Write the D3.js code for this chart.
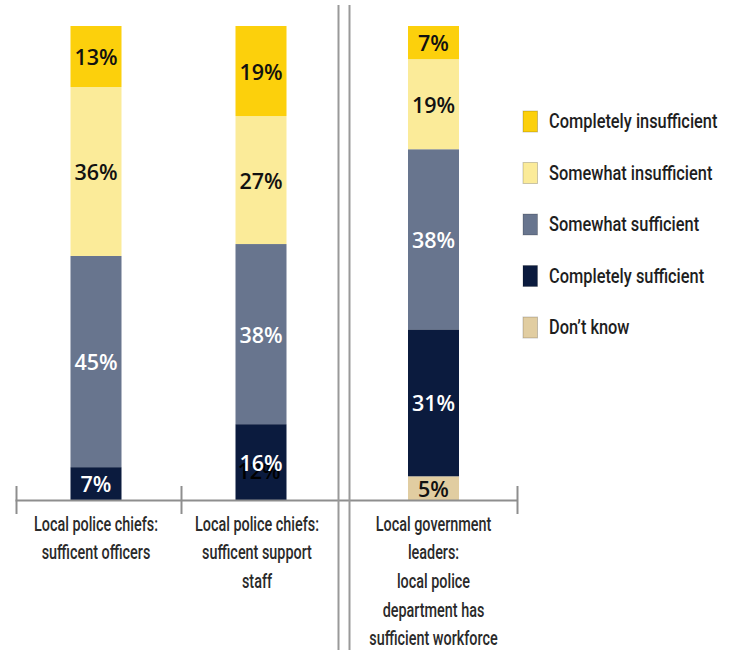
<!DOCTYPE html>
<html>
<head>
<meta charset="utf-8">
<script src="https://cdn.jsdelivr.net/npm/d3@7"></script>
<style>
  html, body { margin: 0; padding: 0; background: #fff; }
  svg { display: block; }
  .cond { font-family: "Roboto", "Liberation Sans", sans-serif; font-weight: 500; }
  .pct { font-family: "Open Sans", "Lato", sans-serif; font-size: 21.5px; font-weight: 600; }
</style>
</head>
<body>
<svg id="chart" width="740" height="650"></svg>
<script>
// Survey groups (two panels: police chiefs | local government leaders)
const categoriesLeft = ["chiefsOfficers", "chiefsStaff"];
const categoriesRight = ["govWorkforce"];
const categoryLabels = {
  chiefsOfficers: ["Local police chiefs:", "sufficent officers"],
  chiefsStaff: ["Local police chiefs:", "sufficent support", "staff"],
  govWorkforce: ["Local government", "leaders:", "local police", "department has", "sufficient workforce"]
};
const allCategories = categoriesLeft.concat(categoriesRight);

// Response shares (%) per group, in order of allCategories
const completelyInsufficient = [13, 19, 7];
const somewhatInsufficient   = [36, 27, 19];
const somewhatSufficient     = [45, 38, 38];
const completelySufficient   = [7, 16, 31];
const dontKnow               = [0, 0, 5];

// Legend order (top to bottom); stacking runs the opposite way
const seriesNames = ["Completely insufficient", "Somewhat insufficient", "Somewhat sufficient", "Completely sufficient", "Don\u2019t know"];
const seriesValues = [completelyInsufficient, somewhatInsufficient, somewhatSufficient, completelySufficient, dontKnow];
const seriesColors = ["#fcd00c", "#fbeb99", "#68758e", "#0b1b3e", "#e1cda1"];
const labelColors  = ["#111", "#111", "#fff", "#fff", "#111"];

// Extra label printed underneath the "Completely sufficient" label of the support-staff bar
const strayLabelCategory = "chiefsStaff";
const strayLabelValue = 12;

const svg = d3.select("#chart");

const rows = allCategories.map((c, i) => {
  const r = { category: c };
  seriesNames.forEach((s, k) => r[s] = seriesValues[k][i]);
  return r;
});

const stackKeys = seriesNames.slice().reverse();
const stacked = d3.stack().keys(stackKeys).offset(d3.stackOffsetExpand)(rows);

const y = d3.scaleLinear().domain([0, 1]).range([500, 26]);
const xLeft = d3.scaleBand().domain(categoriesLeft).range([13.5, 343.5]);
const xRight = d3.scaleBand().domain(categoriesRight).range([349.5, 517.5]);
const barWidth = 51;
const xCenter = c => categoriesLeft.includes(c)
  ? xLeft(c) + xLeft.bandwidth() / 2
  : xRight(c) + xRight.bandwidth() / 2;

// Bars
const layers = svg.append("g").selectAll("g")
  .data(stacked)
  .join("g")
  .attr("fill", d => seriesColors[seriesNames.indexOf(d.key)]);

layers.selectAll("rect")
  .data(d => d.filter(p => p[1] - p[0] > 0))
  .join("rect")
  .attr("x", p => xCenter(p.data.category) - barWidth / 2)
  .attr("width", barWidth)
  .attr("y", p => y(p[1]))
  .attr("height", p => y(p[0]) - y(p[1]));

// Stray label (drawn first so the regular label sits on top)
{
  const idx = allCategories.indexOf(strayLabelCategory);
  const layer = stacked[stackKeys.indexOf("Completely sufficient")][idx];
  svg.append("text")
    .attr("class", "pct")
    .attr("x", xCenter(strayLabelCategory) - 2)
    .attr("y", (y(layer[0]) + y(layer[1])) / 2 + 8)
    .attr("text-anchor", "middle")
    .attr("dominant-baseline", "central")
    .attr("fill", "#000")
    .text(strayLabelValue + "%");
}

// Value labels
stacked.forEach(layer => {
  const k = seriesNames.indexOf(layer.key);
  svg.append("g").selectAll("text")
    .data(layer.filter(p => p[1] - p[0] > 0))
    .join("text")
    .attr("class", "pct")
    .attr("x", p => xCenter(p.data.category))
    .attr("y", p => (y(p[0]) + y(p[1])) / 2)
    .attr("text-anchor", "middle")
    .attr("dominant-baseline", "central")
    .attr("fill", labelColors[k])
    .text(p => p.data[layer.key] + "%");
});

// Category axis
const axisColor = "#8e8e8e";
const axis = svg.append("g").attr("stroke", axisColor);
axis.append("line")
  .attr("x1", xLeft.range()[0] + 2).attr("x2", xRight.range()[1])
  .attr("y1", y(0) + 0.5).attr("y2", y(0) + 0.5)
  .attr("stroke-width", 2);
const tickXs = categoriesLeft.map(c => xLeft(c) + 3).concat([xRight.range()[1]]);
axis.selectAll("line.tick")
  .data(tickXs)
  .join("line")
  .attr("class", "tick")
  .attr("x1", d => d).attr("x2", d => d)
  .attr("y1", 486).attr("y2", 514)
  .attr("stroke-width", 2);

// Panel separators
svg.append("g").attr("stroke", "#999").attr("stroke-width", 2)
  .selectAll("line")
  .data([338.5, xRight.range()[0]])
  .join("line")
  .attr("x1", d => d).attr("x2", d => d)
  .attr("y1", 5).attr("y2", 650);

// Category labels (horizontally squeezed for a condensed look)
allCategories.forEach(c => {
  const cx = xCenter(c) - (c === "chiefsStaff" ? 4 : 0);
  categoryLabels[c].forEach((line, i) => {
    svg.append("text")
      .attr("class", "cond")
      .attr("transform", `translate(${cx}, ${530.5 + i * 28.7}) scale(0.72, 1)`)
      .attr("text-anchor", "middle")
      .attr("font-size", 20)
      .attr("fill", "#2a2a2a")
      .text(line);
  });
});

// Legend
const legend = svg.append("g").selectAll("g")
  .data(seriesNames)
  .join("g")
  .attr("transform", (d, i) => `translate(523, ${121.5 + i * 51.5})`);
legend.append("rect")
  .attr("x", 0).attr("y", -10.5)
  .attr("width", 14.5).attr("height", 21)
  .attr("fill", (d, i) => seriesColors[i])
  .attr("stroke", "rgba(0,0,0,0.2)")
  .attr("stroke-width", 1);
legend.append("text")
  .attr("class", "cond")
  .attr("transform", "translate(26, 0) scale(0.78, 1)")
  .attr("dominant-baseline", "central")
  .attr("font-size", 21)
  .attr("fill", "#1e1e1e")
  .text(d => d);
</script>
</body>
</html>
